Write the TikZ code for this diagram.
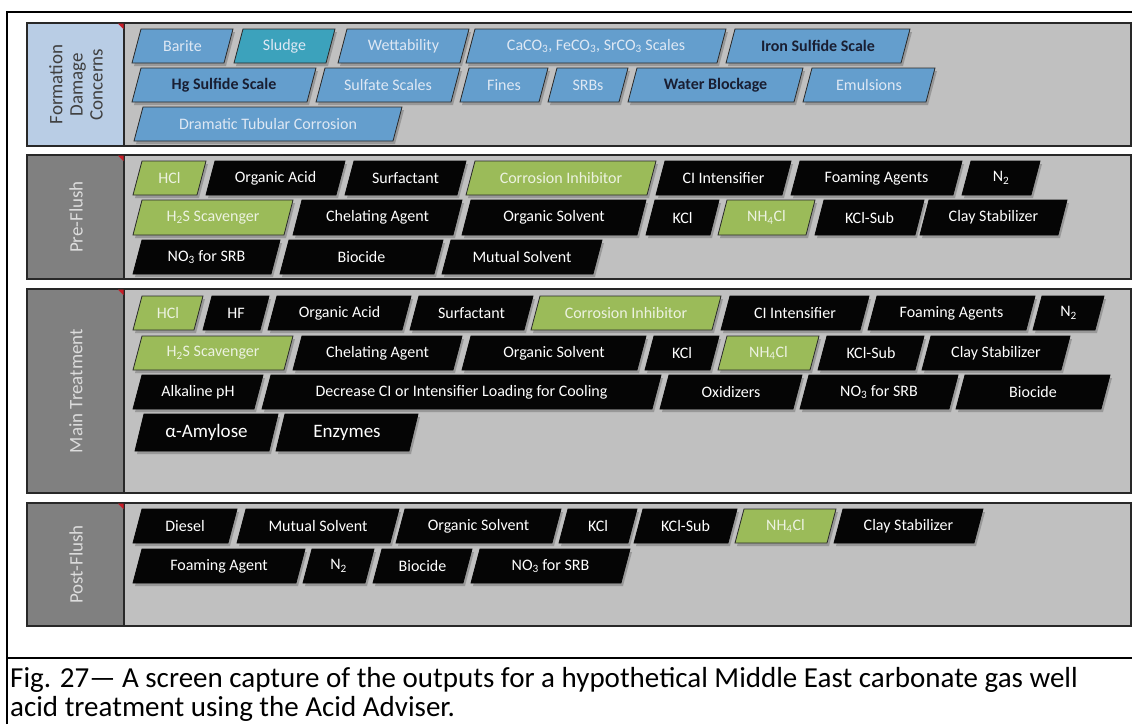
\documentclass[tikz,border=0pt]{standalone}
\usepackage{fontspec}
\setmainfont{Carlito}
\definecolor{panelgray}{RGB}{192,192,192}
\definecolor{labgray}{RGB}{128,128,128}
\definecolor{labblue}{RGB}{185,205,229}
\definecolor{boxblue}{RGB}{100,158,205}
\definecolor{boxteal}{RGB}{60,162,188}
\definecolor{boxgreen}{RGB}{155,187,89}
\definecolor{boxblack}{RGB}{5,5,5}
\definecolor{txtlight}{RGB}{222,232,244}
\definecolor{txtdark}{RGB}{25,30,50}
\definecolor{txtgreen}{RGB}{236,242,224}
\definecolor{edge}{RGB}{40,40,40}
\definecolor{shadowc}{RGB}{120,120,120}
\definecolor{markred}{RGB}{200,30,40}
\tikzset{
  bluebox/.style={fill=boxblue,draw=edge,line width=0.8pt},
  tealbox/.style={fill=boxteal,draw=edge,line width=0.8pt},
  greenbox/.style={fill=boxgreen,draw=edge,line width=0.8pt},
  blackbox/.style={fill=boxblack,draw=boxblack,line width=0.8pt},
  boxtxt/.style={inner sep=0pt,font=\fontsize{16}{18}\selectfont},
  ltxt/.style={text=txtlight},
  dtxt/.style={text=txtdark,font=\fontsize{16}{18}\selectfont\bfseries},
  gtxt/.style={text=txtgreen},
  wtxt/.style={text=white},
  btxt/.style={text=white,font=\fontsize{19}{21}\selectfont},
  panelline/.style={draw=edge,line width=1.3pt},
  labtxt/.style={rotate=90,align=center,font=\fontsize{19}{20}\selectfont},
  frameline/.style={draw=black,line width=1.6pt}
}
\def\sl{9}
% name, shape style, text style, L, R, T, B, text
\newcommand\pbx[8]{%
  \fill[shadowc,opacity=0.55] ({#4+2},{#7+3}) -- ({#4+\sl+2},{#6+3}) -- ({#5+2},{#6+3}) -- ({#5-\sl+2},{#7+3}) -- cycle;
  \path[#2] (#4,#7) -- ({#4+\sl},#6) -- (#5,#6) -- ({#5-\sl},#7) -- cycle;
  \node[boxtxt,#3] (#1) at ({(#4+#5)/2},{(#6+#7)/2}) {#8};
}
% name, top, bottom, label fill, label text style, label
\newcommand\panelbox[6]{%
  \fill[panelgray] (124,#2) rectangle (1131,#3);
  \fill[#4] (27,#2) rectangle (124,#3);
  \draw[panelline] (27,#2) rectangle (1131,#3);
  \draw[panelline] (124,#2) -- (124,#3);
  \fill[markred] (118,{#2+0.5}) -- (123.5,{#2+0.5}) -- (123.5,{#2+6}) -- cycle;
  \node[labtxt,#5] (#1) at (76,{(#2+#3)/2}) {#6};
}
\begin{document}
\begin{tikzpicture}[x=1pt,y=-1pt]
\useasboundingbox (0,0) rectangle (1132,724);
% outer frame
\draw[frameline] (7,724) -- (7,12) -- (1132,12);
\draw[frameline] (7,658) -- (1132,658);

% ---------- Panel 1 ----------
\panelbox{lab1}{23}{146}{labblue}{text={rgb,255:red,64;green,64;blue,64}}{Formation\\Damage\\Concerns}
\pbx{barite}{bluebox}{ltxt}{132}{233}{29}{63}{Barite}
\pbx{sludge}{tealbox}{ltxt}{234}{335}{29}{63}{Sludge}
\pbx{wett}{bluebox}{ltxt}{338}{469}{29}{63}{Wettability}
\pbx{carb}{bluebox}{ltxt}{466}{726}{29}{63}{CaCO\textsubscript{3}, FeCO\textsubscript{3}, SrCO\textsubscript{3} Scales}
\pbx{ironsc}{bluebox}{dtxt}{726}{910}{29}{63}{Iron Sulfide Scale}
\pbx{hgsc}{bluebox}{dtxt}{132}{316}{68}{102}{Hg Sulfide Scale}
\pbx{sulf}{bluebox}{ltxt}{316}{460}{68}{102}{Sulfate Scales}
\pbx{fines}{bluebox}{ltxt}{460}{548}{68}{102}{Fines}
\pbx{srbs}{bluebox}{ltxt}{548}{628}{68}{102}{SRBs}
\pbx{wblock}{bluebox}{dtxt}{628}{803}{68}{102}{Water Blockage}
\pbx{emul}{bluebox}{ltxt}{803}{935}{68}{102}{Emulsions}
\pbx{dtc}{bluebox}{ltxt}{134}{402}{107}{141}{Dramatic Tubular Corrosion}

% ---------- Panel 2 ----------
\panelbox{lab2}{155}{279}{labgray}{text={rgb,255:red,220;green,220;blue,220}}{Pre-Flush}
\pbx{a1}{greenbox}{gtxt}{133}{206}{161}{195}{HCl}
\pbx{a2}{blackbox}{wtxt}{206}{345}{161}{195}{Organic Acid}
\pbx{a3}{blackbox}{wtxt}{345}{466}{161}{195}{Surfactant}
\pbx{a4}{greenbox}{gtxt}{466}{656}{161}{195}{Corrosion Inhibitor}
\pbx{a5}{blackbox}{wtxt}{656}{791}{161}{195}{CI Intensifier}
\pbx{a6}{blackbox}{wtxt}{791}{962}{161}{195}{Foaming Agents}
\pbx{a7}{blackbox}{wtxt}{962}{1040}{161}{195}{N\textsubscript{2}}
\pbx{a8}{greenbox}{gtxt}{133}{293}{200}{235}{H\textsubscript{2}S Scavenger}
\pbx{a9}{blackbox}{wtxt}{293}{462}{200}{235}{Chelating Agent}
\pbx{a10}{blackbox}{wtxt}{462}{646}{200}{235}{Organic Solvent}
\pbx{a11}{blackbox}{wtxt}{646}{719}{200}{235}{KCl}
\pbx{a12}{greenbox}{gtxt}{718}{815}{200}{235}{NH\textsubscript{4}Cl}
\pbx{a13}{blackbox}{wtxt}{815}{924}{200}{235}{KCl-Sub}
\pbx{a14}{blackbox}{wtxt}{920}{1067}{200}{235}{Clay Stabilizer}
\pbx{a15}{blackbox}{wtxt}{133}{280}{240}{274}{NO\textsubscript{3} for SRB}
\pbx{a16}{blackbox}{wtxt}{280}{443}{240}{274}{Biocide}
\pbx{a17}{blackbox}{wtxt}{442}{602}{240}{274}{Mutual Solvent}

% ---------- Panel 3 ----------
\panelbox{lab3}{289}{493}{labgray}{text={rgb,255:red,220;green,220;blue,220}}{Main Treatment}
\pbx{b1}{greenbox}{gtxt}{133}{203}{296}{330}{HCl}
\pbx{b2}{blackbox}{wtxt}{203}{269}{296}{330}{HF}
\pbx{b3}{blackbox}{wtxt}{268}{411}{296}{330}{Organic Acid}
\pbx{b4}{blackbox}{wtxt}{410}{533}{296}{330}{Surfactant}
\pbx{b5}{greenbox}{gtxt}{531}{721}{296}{330}{Corrosion Inhibitor}
\pbx{b6}{blackbox}{wtxt}{721}{869}{296}{330}{CI Intensifier}
\pbx{b7}{blackbox}{wtxt}{868}{1035}{296}{330}{Foaming Agents}
\pbx{b8}{blackbox}{wtxt}{1033}{1104}{296}{330}{N\textsubscript{2}}
\pbx{b9}{greenbox}{gtxt}{133}{293}{336}{370}{H\textsubscript{2}S Scavenger}
\pbx{b10}{blackbox}{wtxt}{293}{462}{336}{370}{Chelating Agent}
\pbx{b11}{blackbox}{wtxt}{462}{646}{336}{370}{Organic Solvent}
\pbx{b12}{blackbox}{wtxt}{645}{719}{336}{370}{KCl}
\pbx{b13}{greenbox}{gtxt}{718}{819}{336}{370}{NH\textsubscript{4}Cl}
\pbx{b14}{blackbox}{wtxt}{818}{924}{336}{370}{KCl-Sub}
\pbx{b15}{blackbox}{wtxt}{922}{1070}{336}{370}{Clay Stabilizer}
\pbx{b16}{blackbox}{wtxt}{133}{263}{375}{409}{Alkaline pH}
\pbx{b17}{blackbox}{wtxt}{262}{661}{375}{409}{Decrease CI or Intensifier Loading for Cooling}
\pbx{b18}{blackbox}{wtxt}{660}{802}{375}{409}{Oxidizers}
\pbx{b19}{blackbox}{wtxt}{800}{958}{375}{409}{NO\textsubscript{3} for SRB}
\pbx{b20}{blackbox}{wtxt}{956}{1110}{375}{409}{Biocide}
\pbx{b21}{blackbox}{btxt}{135}{278}{414}{451}{α-Amylose}
\pbx{b22}{blackbox}{btxt}{276}{418}{414}{451}{Enzymes}

% ---------- Panel 4 ----------
\panelbox{lab4}{503}{626}{labgray}{text={rgb,255:red,220;green,220;blue,220}}{Post-Flush}
\pbx{c1}{blackbox}{wtxt}{133}{237}{509}{543}{Diesel}
\pbx{c2}{blackbox}{wtxt}{237}{399}{509}{543}{Mutual Solvent}
\pbx{c3}{blackbox}{wtxt}{396}{561}{509}{543}{Organic Solvent}
\pbx{c4}{blackbox}{wtxt}{559}{637}{509}{543}{KCl}
\pbx{c5}{blackbox}{wtxt}{634}{737}{509}{543}{KCl-Sub}
\pbx{c6}{greenbox}{gtxt}{735}{836}{509}{543}{NH\textsubscript{4}Cl}
\pbx{c7}{blackbox}{wtxt}{834}{983}{509}{543}{Clay Stabilizer}
\pbx{c8}{blackbox}{wtxt}{133}{305}{549}{583}{Foaming Agent}
\pbx{c9}{blackbox}{wtxt}{303}{374}{549}{583}{N\textsubscript{2}}
\pbx{c10}{blackbox}{wtxt}{373}{472}{549}{583}{Biocide}
\pbx{c11}{blackbox}{wtxt}{471}{630}{549}{583}{NO\textsubscript{3} for SRB}

% caption
\node[anchor=north west,inner sep=0pt,align=left,font=\fontsize{29}{29.5}\selectfont] (cap) at (10,667)
  {Fig. 27— A screen capture of the outputs for a hypothetical Middle East carbonate gas well\\acid treatment using the Acid Adviser.};
\end{tikzpicture}
\end{document}
